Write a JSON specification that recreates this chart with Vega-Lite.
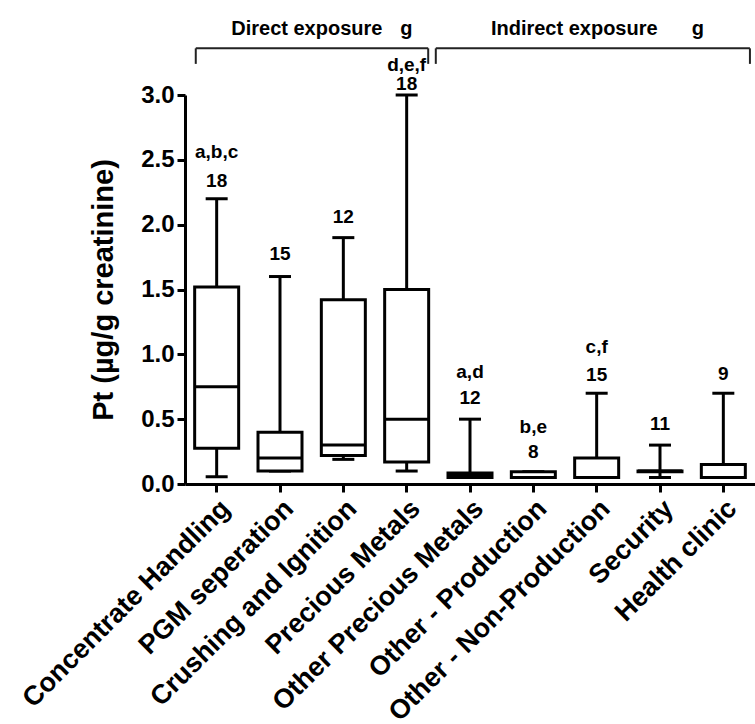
{
  "$schema": "https://vega.github.io/schema/vega-lite/v6.json",
  "autosize": "none",
  "width": 570,
  "height": 389,
  "padding": {"left": 185, "top": 95, "right": 0, "bottom": 240},
  "background": "white",
  "config": {
    "view": {"stroke": null},
    "font": "Liberation Sans",
    "axis": {"domainColor": "black", "domainWidth": 3, "tickColor": "black", "tickWidth": 3, "tickSize": 8, "grid": false, "labelColor": "black", "titleColor": "black", "labelFont": "Liberation Sans", "titleFont": "Liberation Sans", "labelFontWeight": "bold", "titleFontWeight": "bold"}
  },
  "datasets": {
    "boxes": [
      {"cat": "Concentrate Handling", "lo": 0.055, "q1": 0.275, "med": 0.75, "q3": 1.52, "hi": 2.2, "n": "18", "n_y": 2.34, "sig": "a,b,c", "sig_y": 2.56},
      {"cat": "PGM seperation", "lo": 0.1, "q1": 0.1, "med": 0.2, "q3": 0.4, "hi": 1.6, "n": "15", "n_y": 1.77, "sig": "", "sig_y": 2.0},
      {"cat": "Crushing and Ignition", "lo": 0.19, "q1": 0.22, "med": 0.3, "q3": 1.42, "hi": 1.9, "n": "12", "n_y": 2.06, "sig": "", "sig_y": 2.3},
      {"cat": "Precious Metals", "lo": 0.1, "q1": 0.17, "med": 0.5, "q3": 1.5, "hi": 3.0, "n": "18", "n_y": 3.085, "sig": "d,e,f", "sig_y": 3.235},
      {"cat": "Other Precious Metals", "lo": 0.05, "q1": 0.05, "med": 0.07, "q3": 0.085, "hi": 0.5, "n": "12", "n_y": 0.66, "sig": "a,d", "sig_y": 0.86},
      {"cat": "Other - Production", "lo": 0.05, "q1": 0.05, "med": 0.05, "q3": 0.095, "hi": 0.095, "n": "8", "n_y": 0.25, "sig": "b,e", "sig_y": 0.44},
      {"cat": "Other - Non-Production", "lo": 0.05, "q1": 0.05, "med": 0.05, "q3": 0.2, "hi": 0.7, "n": "15", "n_y": 0.84, "sig": "c,f", "sig_y": 1.06},
      {"cat": "Security", "lo": 0.05, "q1": 0.095, "med": 0.1, "q3": 0.1, "hi": 0.3, "n": "11", "n_y": 0.46, "sig": "", "sig_y": 0.7},
      {"cat": "Health clinic", "lo": 0.05, "q1": 0.05, "med": 0.05, "q3": 0.15, "hi": 0.7, "n": "9", "n_y": 0.85, "sig": "", "sig_y": 1.05}
    ],
    "hbrackets": [
      {"x1": 0.17, "x2": 3.84, "y": 3.36},
      {"x1": 3.96, "x2": 8.92, "y": 3.36}
    ],
    "vbrackets": [
      {"x": 0.17, "y1": 3.24, "y2": 3.36},
      {"x": 3.84, "y1": 3.24, "y2": 3.36},
      {"x": 3.96, "y1": 3.24, "y2": 3.36},
      {"x": 8.92, "y1": 3.24, "y2": 3.36}
    ],
    "titles": [
      {"x": 0.73, "y": 3.51, "label": "Direct exposure"},
      {"x": 3.4, "y": 3.51, "label": "g"},
      {"x": 4.83, "y": 3.51, "label": "Indirect exposure"},
      {"x": 8.0, "y": 3.51, "label": "g"}
    ]
  },
  "layer": [
    {
      "data": {"name": "boxes"},
      "encoding": {
        "x": {"field": "cat", "type": "nominal", "sort": null, "scale": {"paddingInner": 0, "paddingOuter": 0},
          "axis": {"title": null, "labelAngle": -45, "labelFontSize": 27, "labelPadding": 3, "labelLimit": 500}}
      },
      "layer": [
        {
          "mark": {"type": "rule", "color": "black", "strokeWidth": 3},
          "encoding": {
            "y": {"field": "lo", "type": "quantitative", "scale": {"domain": [0, 3], "nice": false},
              "axis": {"values": [0, 0.5, 1, 1.5, 2, 2.5, 3], "format": ".1f", "labelFontSize": 24, "titleFontSize": 29, "title": "Pt (µg/g creatinine)", "titlePadding": 22, "labelPadding": 3}},
            "y2": {"field": "q1"}
          }
        },
        {
          "mark": {"type": "rule", "color": "black", "strokeWidth": 3},
          "encoding": {
            "y": {"field": "q3", "type": "quantitative", "scale": {"domain": [0, 3], "nice": false}},
            "y2": {"field": "hi"}
          }
        },
        {
          "mark": {"type": "tick", "color": "black", "opacity": 1, "thickness": 3, "size": 22, "orient": "horizontal"},
          "encoding": {"y": {"field": "lo", "type": "quantitative", "scale": {"domain": [0, 3], "nice": false}}}
        },
        {
          "mark": {"type": "tick", "color": "black", "opacity": 1, "thickness": 3, "size": 22, "orient": "horizontal"},
          "encoding": {"y": {"field": "hi", "type": "quantitative", "scale": {"domain": [0, 3], "nice": false}}}
        },
        {
          "mark": {"type": "bar", "fill": "white", "stroke": "black", "strokeWidth": 3, "size": 44, "opacity": 1},
          "encoding": {
            "y": {"field": "q1", "type": "quantitative", "scale": {"domain": [0, 3], "nice": false}},
            "y2": {"field": "q3"}
          }
        },
        {
          "mark": {"type": "tick", "color": "black", "opacity": 1, "thickness": 3, "size": 44, "orient": "horizontal"},
          "encoding": {"y": {"field": "med", "type": "quantitative", "scale": {"domain": [0, 3], "nice": false}}}
        },
        {
          "mark": {"type": "text", "color": "black", "fontSize": 19, "fontWeight": "bold", "baseline": "middle"},
          "encoding": {
            "y": {"field": "n_y", "type": "quantitative", "scale": {"domain": [0, 3], "nice": false}},
            "text": {"field": "n"}
          }
        },
        {
          "mark": {"type": "text", "color": "black", "fontSize": 19, "fontWeight": "bold", "baseline": "middle"},
          "encoding": {
            "y": {"field": "sig_y", "type": "quantitative", "scale": {"domain": [0, 3], "nice": false}},
            "text": {"field": "sig"}
          }
        }
      ]
    },
    {
      "layer": [
        {
          "data": {"name": "hbrackets"},
          "mark": {"type": "rule", "color": "#222", "strokeWidth": 2},
          "encoding": {
            "x": {"field": "x1", "type": "quantitative", "scale": {"domain": [0, 9], "nice": false}, "axis": null},
            "x2": {"field": "x2"},
            "y": {"field": "y", "type": "quantitative", "scale": {"domain": [0, 3], "nice": false}}
          }
        },
        {
          "data": {"name": "vbrackets"},
          "mark": {"type": "rule", "color": "#222", "strokeWidth": 2},
          "encoding": {
            "x": {"field": "x", "type": "quantitative", "scale": {"domain": [0, 9], "nice": false}, "axis": null},
            "y": {"field": "y1", "type": "quantitative", "scale": {"domain": [0, 3], "nice": false}},
            "y2": {"field": "y2"}
          }
        },
        {
          "data": {"name": "titles"},
          "mark": {"type": "text", "color": "black", "fontSize": 20, "fontWeight": "bold", "align": "left", "baseline": "middle"},
          "encoding": {
            "x": {"field": "x", "type": "quantitative", "scale": {"domain": [0, 9], "nice": false}, "axis": null},
            "y": {"field": "y", "type": "quantitative", "scale": {"domain": [0, 3], "nice": false}},
            "text": {"field": "label"}
          }
        }
      ]
    }
  ],
  "resolve": {"scale": {"x": "independent"}}
}
